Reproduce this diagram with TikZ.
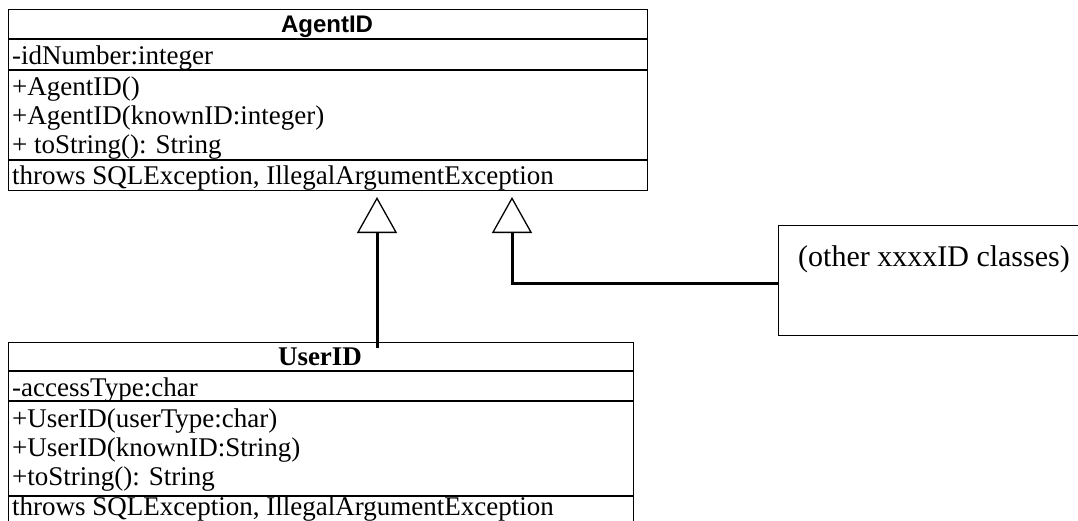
\documentclass[tikz,border=0pt]{standalone}
\usepackage{fontspec}
\setmainfont{Liberation Serif}
\newfontfamily\arialfont{Liberation Sans}
\usetikzlibrary{arrows.meta}
\begin{document}
\begin{tikzpicture}[x=1pt,y=-1pt,
  box/.style={draw, line width=1.2pt, inner sep=0pt, anchor=north west},
  sep/.style={line width=1.2pt},
  txt/.style={anchor=base west, inner sep=0pt, font=\fontsize{27}{30}\selectfont},
  gen/.style={line width=3pt, -{Triangle[open, length=36pt, width=40pt, line width=1.3pt]}}]
\useasboundingbox (0,0) rectangle (1078,520);
% AgentID class
\node[box, minimum width=639pt, minimum height=181pt] (agent) at (8,9) {};
\draw[sep] (8,39) -- (647,39);
\draw[sep] (8,70) -- (647,70);
\draw[sep] (8,160) -- (647,160);
\node[anchor=base, inner sep=0pt, font=\arialfont\bfseries\fontsize{24}{28}\selectfont] (agenttitle) at (327,32) {AgentID};
\node[txt] (a1) at (12,64) {-idNumber:integer};
\node[txt] (a2) at (12,95) {+AgentID()};
\node[txt] (a3) at (12,124) {+AgentID(knownID:integer)};
\node[txt] (a4) at (12,153) {+ toString(): String};
\node[txt] (a5) at (12,184) {throws SQLException, IllegalArgumentException};
% UserID class
\node[box, minimum width=625pt, minimum height=190pt] (user) at (8,342) {};
\draw[sep] (8,371) -- (633,371);
\draw[sep] (8,401) -- (633,401);
\draw[sep] (8,496) -- (633,496);
\node[anchor=base, inner sep=0pt, font=\bfseries\fontsize{27}{30}\selectfont] (usertitle) at (320,365) {UserID};
\node[txt] (u1) at (12,396) {-accessType:char};
\node[txt] (u2) at (12,427) {+UserID(userType:char)};
\node[txt] (u3) at (12,456) {+UserID(knownID:String)};
\node[txt] (u4) at (12,485) {+toString(): String};
\node[txt] (u5) at (12,515) {throws SQLException, IllegalArgumentException};
% other classes
\node[box, minimum width=320pt, minimum height=110pt] (other) at (778,225) {};
\node[anchor=base west, inner sep=0pt, font=\fontsize{30}{32}\selectfont] (othertxt) at (798,266) {(other xxxxID classes)};
% generalizations
\coordinate (t1) at (377,197);
\coordinate (t2) at (512,197);
\coordinate (s1) at (377,348);
\coordinate (b2) at (512,283);
\draw[gen] (s1) -- (t1);
\draw[gen] (other.west |- b2) -- (b2) -- (t2);
\end{tikzpicture}
\end{document}
